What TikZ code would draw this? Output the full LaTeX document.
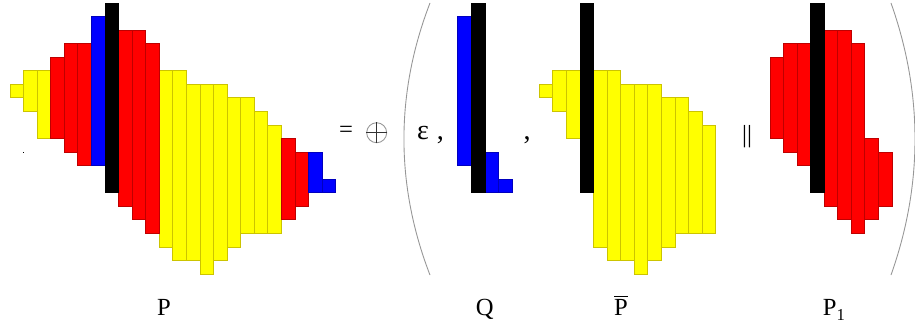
\documentclass[tikz,border=0pt]{standalone}
\usepackage{fontspec}
\setmainfont{Liberation Serif}
\usepackage{tikz}
\usetikzlibrary{calc}
\definecolor{ylwfill}{RGB}{255,255,0}
\definecolor{ylwline}{RGB}{204,196,0}
\definecolor{redline}{RGB}{190,0,0}
\definecolor{blueline}{RGB}{0,0,190}
\definecolor{parengray}{RGB}{150,150,150}
\tikzset{
  ycol/.style={fill=ylwfill, draw=ylwline, line width=0.5pt},
  rcol/.style={fill=red, draw=redline, line width=0.5pt},
  bcol/.style={fill=blue, draw=blueline, line width=0.5pt},
  kcol/.style={fill=black, draw=black, line width=0.5pt},
  lbl/.style={inner sep=0pt, font=\fontsize{14}{16}\selectfont},
  sym/.style={inner sep=0pt, font=\fontsize{16}{18}\selectfont},
  paren/.style={draw=parengray, line width=0.5pt}
}

\begin{document}
\begin{tikzpicture}[x=0.2714cm, y=-0.2711cm]
  \useasboundingbox (-0.737,-0.221) rectangle (66.69,23.985);

  % P
  \foreach \c/\t/\b in {0/6/7, 1/5/8, 2/5/10, 11/5/18, 12/5/19, 13/6/19, 14/6/20,
                        15/6/19, 16/7/18, 17/7/17, 18/8/17, 19/9/17}
    \draw[ycol] (\c,\t) rectangle (\c+1,\b);
  \foreach \c/\t/\b in {3/4/10, 4/3/11, 5/3/12, 8/2/15, 9/2/16, 10/3/17, 20/10/16, 21/11/15}
    \draw[rcol] (\c,\t) rectangle (\c+1,\b);
  \foreach \c/\t/\b in {6/1/12, 22/11/14, 23/13/14}
    \draw[bcol] (\c,\t) rectangle (\c+1,\b);
  \draw[kcol] (7,0) rectangle (8,14);
  \fill (0.98,11.0) rectangle ++(0.07,0.07);

  % Q
  \foreach \c/\t/\b in {33/1/12, 35/11/14, 36/13/14}
    \draw[bcol] (\c,\t) rectangle (\c+1,\b);
  \draw[kcol] (34,0) rectangle (35,14);

  % P bar
  \foreach \c/\t/\b in {39/6/7, 40/5/8, 41/5/10, 43/5/18, 44/5/19, 45/6/19, 46/6/20,
                        47/6/19, 48/7/18, 49/7/17, 50/8/17, 51/9/17}
    \draw[ycol] (\c,\t) rectangle (\c+1,\b);
  \draw[kcol] (42,0) rectangle (43,14);

  % P_1
  \foreach \c/\t/\b in {56/4/10, 57/3/11, 58/3/12, 60/2/15, 61/2/16, 62/3/17, 63/10/16, 64/11/15}
    \draw[rcol] (\c,\t) rectangle (\c+1,\b);
  \draw[kcol] (59,0) rectangle (60,14);

  % = (+) ( e , Q , Pbar || P1 )
  \node[lbl] (eqsign) at (24.76,9.50) {=};
  \node[circle, draw=parengray, line width=0.5pt, minimum size=0.4cm, inner sep=0pt] (oplus) at (27.02,9.57) {};
  \draw[black!80, line width=0.5pt] (oplus.north) -- (oplus.south);
  \draw[black!80, line width=0.5pt] (oplus.west) -- (oplus.east);
  \node[sym, anchor=base west] (eps) at (29.97,10.06) {ε};
  \node[sym, anchor=base] (comma1) at (31.72,10.07) {,};
  \node[sym, anchor=base] (comma2) at (38.10,10.04) {,};
  \node[inner sep=0pt, font=\fontsize{14}{16}\selectfont] (parsign) at (54.31,9.89) {||};

  \coordinate (lptop) at (30.95,0);
  \coordinate (lpbot) at (30.95,20.07);
  \coordinate (rptop) at (64.92,0);
  \coordinate (rpbot) at (64.92,20.07);
  \draw[paren] (lptop) .. controls (28.39,6.64) and (28.39,13.43) .. (lpbot);
  \draw[paren] (rptop) .. controls (67.28,6.64) and (67.28,13.43) .. (rpbot);

  % labels
  \node[lbl, anchor=base] (lblP) at (11.35,23.03) {P};
  \node[lbl, anchor=base] (lblQ) at (34.98,23.03) {Q};
  \node[lbl, anchor=base] (lblPbar) at (45.03,23.03) {$\overline{\mbox{P}}$};
  \node[lbl, anchor=base west] (lblPone) at (59.88,23.03) {P\raisebox{-3pt}{\fontsize{9.5}{10}\selectfont 1}};
\end{tikzpicture}
\end{document}
